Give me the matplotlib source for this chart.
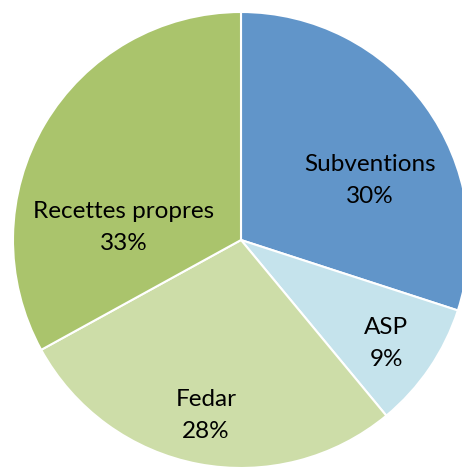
import matplotlib.pyplot as plt

labels = ["Subventions", "ASP", "Fedar", "Recettes propres"]
shares = [30, 9, 28, 33]
colors = ["#6195C9", "#C5E3EC", "#CDDDA8", "#AAC46C"]
label_pos = [(0.566, 0.263), (0.636, -0.452), (-0.154, -0.768), (-0.513, 0.053)]

fig = plt.figure(figsize=(4.62, 4.68), dpi=100)
ax = fig.add_axes([13 / 462, 0 / 468, 456 / 462, 456 / 468])
wedges, _ = ax.pie(shares, colors=colors, startangle=90, counterclock=False,
                   radius=1, wedgeprops=dict(edgecolor="white", linewidth=1.5))
for w in wedges:
    w.set_clip_on(False)
ax.set_xlim(-1, 1)
ax.set_ylim(-1, 1)
ax.set_aspect("equal")
ax.axis("off")

for lab, val, (x, y) in zip(labels, shares, label_pos):
    ax.text(x, y, f"{lab}\n{val}%", ha="center", va="center", fontsize=17.5,
            family="Lato", linespacing=1.65, color="black")

fig.savefig("out.png", dpi=100)
